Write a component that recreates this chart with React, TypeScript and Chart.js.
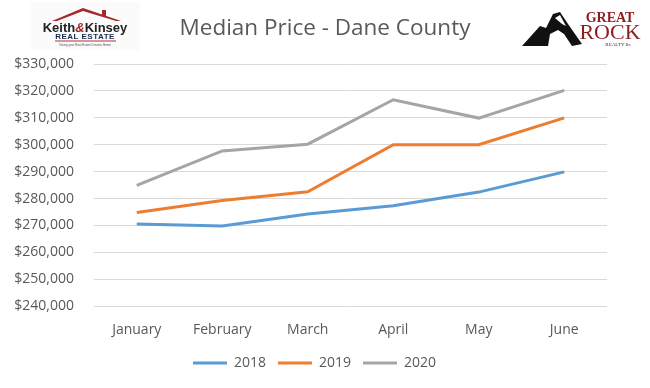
import React, { useEffect, useRef } from "react";
import { Chart, registerables } from "chart.js";

Chart.register(...registerables);

const months = ["January", "February", "March", "April", "May", "June"];
const series2018 = [270500, 269800, 274300, 277300, 282400, 289900];
const series2019 = [274800, 279300, 282500, 300000, 300000, 310000];
const series2020 = [284900, 297700, 300200, 316700, 309900, 320200];
const seriesNames = ["2018", "2019", "2020"];
const yMin = 240000;
const yMax = 330000;
const yStep = 10000;
const titleText = "Median Price - Dane County";

const colors = ["#5B9BD5", "#ED7D31", "#A5A5A5"];
const textColor = "#595959";
const fontFamily = "'Open Sans', 'Liberation Sans', sans-serif";

function KeithLogo() {
  return (
    <div
      style={{
        position: "absolute",
        left: 30,
        top: 2,
        width: 110,
        height: 48,
        background: "#fbfbfb",
      }}
    >
      <svg width="110" height="48" style={{ position: "absolute", left: 0, top: 0 }}>
        <polygon points="22,19 53,6 91,19 86,19 53,9 27,19" fill="#a32a2a" />
        <rect x="72" y="8" width="4" height="6" fill="#a32a2a" />
        <line x1="25" y1="39" x2="86" y2="39" stroke="#b53030" strokeWidth="1" />
      </svg>
      <div
        style={{
          position: "absolute",
          left: 0,
          width: 110,
          top: 19,
          textAlign: "center",
          fontFamily: "'Liberation Sans', Arial, sans-serif",
          fontWeight: 700,
          fontSize: 13,
          color: "#222",
          lineHeight: "13px",
        }}
      >
        Keith<span style={{ color: "#a32a2a", fontStyle: "italic" }}>&amp;</span>Kinsey
      </div>
      <div
        style={{
          position: "absolute",
          left: 0,
          width: 110,
          top: 31,
          textAlign: "center",
          fontFamily: "'Liberation Sans', Arial, sans-serif",
          fontWeight: 700,
          fontSize: 8,
          color: "#1b2a55",
          lineHeight: "8px",
          letterSpacing: 0.5,
        }}
      >
        REAL ESTATE
      </div>
      <div
        style={{
          position: "absolute",
          left: 0,
          width: 110,
          top: 41,
          textAlign: "center",
          fontFamily: "'Liberation Sans', Arial, sans-serif",
          fontSize: 3,
          color: "#555",
          lineHeight: "4px",
        }}
      >
        Taking your Real Estate Dreams Home
      </div>
    </div>
  );
}

function GreatRockLogo() {
  return (
    <div style={{ position: "absolute", left: 520, top: 4, width: 125, height: 48 }}>
      <svg width="64" height="48" style={{ position: "absolute", left: 0, top: 0 }}>
        <polygon
          points="2,42 20,22 26,24 33,10 40,8 48,20 55,30 62,40 52,42 44,30 38,26 30,30 28,42"
          fill="#111"
        />
        <polygon points="35,14 40,11 46,22 42,20" fill="#fff" />
      </svg>
      <div
        style={{
          position: "absolute",
          left: 60,
          top: 7,
          width: 60,
          textAlign: "center",
          fontFamily: "'Liberation Serif', 'DejaVu Serif', serif",
          fontWeight: 700,
          fontSize: 14,
          color: "#8e1b1f",
          lineHeight: "13px",
        }}
      >
        GREAT
      </div>
      <div
        style={{
          position: "absolute",
          left: 58,
          top: 17,
          width: 64,
          textAlign: "center",
          fontFamily: "'Liberation Serif', 'DejaVu Serif', serif",
          fontSize: 22,
          color: "#8e1b1f",
          lineHeight: "22px",
        }}
      >
        ROCK
      </div>
      <div
        style={{
          position: "absolute",
          left: 78,
          top: 38,
          width: 40,
          textAlign: "center",
          fontFamily: "'Liberation Serif', 'DejaVu Serif', serif",
          fontSize: 5,
          color: "#333",
          lineHeight: "5px",
        }}
      >
        REALTY llc
      </div>
    </div>
  );
}

const legendShift = {
  id: "legendShift",
  beforeDraw(chart: any) {
    if (chart.legend) {
      chart.legend.left = 22;
    }
  },
};

export default function App() {
  const canvasRef = useRef<HTMLCanvasElement | null>(null);

  useEffect(() => {
    if (!canvasRef.current) return;
    const allSeries = [series2018, series2019, series2020];
    const chart = new Chart(canvasRef.current, {
      type: "line",
      data: {
        labels: months,
        datasets: allSeries.map((data, i) => ({
          label: seriesNames[i],
          data,
          borderColor: colors[i],
          backgroundColor: colors[i],
          borderWidth: 3,
          pointRadius: 0,
          tension: 0,
        })),
      },
      plugins: [legendShift],
      options: {
        responsive: false,
        animation: false,
        layout: { padding: { top: 64, right: 43, left: 0, bottom: 8 } },
        plugins: {
          title: { display: false },
          tooltip: { enabled: false },
          legend: {
            position: "bottom",
            labels: {
              font: { family: fontFamily, size: 14 },
              color: textColor,
              boxWidth: 34,
              boxHeight: 3,
              padding: 12,
              generateLabels: (c: any) =>
                c.data.datasets.map((ds: any, i: number) => ({
                  text: ds.label,
                  fillStyle: ds.borderColor,
                  strokeStyle: ds.borderColor,
                  lineWidth: 0,
                  fontColor: textColor,
                  datasetIndex: i,
                  hidden: false,
                })),
            },
          },
        },
        scales: {
          x: {
            type: "category",
            offset: true,
            grid: { display: false, drawTicks: false },
            border: { display: false },
            afterFit: (scale: any) => {
              scale.height = scale.height - 9;
            },
            ticks: {
              color: textColor,
              font: { family: fontFamily, size: 14 },
              padding: 15,
            },
          },
          y: {
            min: yMin,
            max: yMax,
            afterFit: (scale: any) => {
              scale.width = 94;
            },
            grid: { color: "#d9d9d9", lineWidth: 1, drawTicks: false },
            border: { display: false },
            ticks: {
              stepSize: yStep,
              color: textColor,
              font: { family: fontFamily, size: 14 },
              padding: 20,
              callback: (v: any) => "$" + Number(v).toLocaleString("en-US"),
            },
          },
        },
      },
    });
    return () => chart.destroy();
  }, []);

  return (
    <div
      style={{
        position: "fixed",
        left: 0,
        top: 0,
        width: 650,
        height: 388,
        background: "#fff",
        overflow: "hidden",
      }}
    >
      <canvas ref={canvasRef} width={650} height={388} style={{ position: "absolute", left: 0, top: 0 }} />
      <div
        style={{
          position: "absolute",
          left: 0,
          width: 650,
          top: 12,
          textAlign: "center",
          fontFamily,
          fontSize: 22.5,
          color: textColor,
          lineHeight: "30px",
        }}
      >
        {titleText}
      </div>
      <KeithLogo />
      <GreatRockLogo />
    </div>
  );
}
